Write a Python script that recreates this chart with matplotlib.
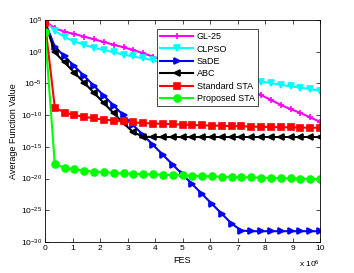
import numpy as np
import matplotlib
matplotlib.use("Agg")
import matplotlib.pyplot as plt

plt.rcParams['font.family'] = ['Liberation Sans', 'DejaVu Sans']
plt.rcParams['mathtext.default'] = 'regular'

# FES grid (in units of 1e6)
fes = np.linspace(0, 10, 29)

# log10 of average function value
gl25 = [4.85, 3.69, 3.16, 2.79, 2.37, 1.96, 1.53, 1.10, 0.69, 0.27,
        -0.25, -0.78, -1.30, -1.82, -2.34, -2.86, -3.38, -3.90, -4.42, -4.95,
        -5.50, -6.15, -6.83, -7.60, -8.40, -9.05, -9.65, -10.35, -11.05]
clpso = [4.8, 3.3, 2.3, 1.6, 1.1, 0.6, 0.25, -0.1, -0.45, -0.75,
         -1.05, -1.35, -1.65, -1.95, -2.2, -2.5, -2.8, -3.1, -3.4, -3.7,
         -4.0, -4.4, -4.7, -4.95, -5.2, -5.45, -5.65, -5.9, -6.15]
sade = [4.7, 0.8, -0.75, -2.3, -3.85, -5.4, -6.95, -8.5, -10.05, -11.6,
        -13.15, -14.7, -16.25, -17.8, -19.35, -20.9, -22.45, -24.0, -25.55, -27.1,
        -28.2, -28.3, -28.3, -28.3, -28.3, -28.3, -28.3, -28.3, -28.3]
abc = [4.7, -0.1, -1.7, -3.3, -4.9, -6.5, -8.1, -9.7, -11.3, -12.7,
       -13.4, -13.45, -13.45, -13.45, -13.45, -13.45, -13.45, -13.45, -13.45, -13.45,
       -13.45, -13.45, -13.45, -13.45, -13.45, -13.45, -13.45, -13.45, -13.45]
std_sta = [4.5, -8.8, -9.6, -10.0, -10.25, -10.5, -10.7, -10.85, -11.0, -11.15,
           -11.25, -11.32, -11.38, -11.44, -11.5, -11.55, -11.6, -11.64, -11.68, -11.72,
           -11.76, -11.8, -11.84, -11.87, -11.9, -11.93, -11.96, -11.98, -12.0]
prop_sta = [3.1, -17.7, -18.3, -18.55, -18.75, -18.9, -19.0, -19.1, -19.17, -19.23,
            -19.3, -19.35, -19.4, -19.45, -19.5, -19.55, -19.6, -19.65, -19.7, -19.74,
            -19.78, -19.82, -19.86, -19.9, -19.94, -19.98, -20.01, -20.04, -20.07]

series = [
    ("GL-25", gl25, "#ff00ff", "+", 5),
    ("CLPSO", clpso, "#00ffff", "v", 5),
    ("SaDE", sade, "#0000ff", ">", 5),
    ("ABC", abc, "k", "<", 5),
    ("Standard STA", std_sta, "#ff0000", "s", 4),
    ("Proposed STA", prop_sta, "#00ff00", "o", 5),
]

fig = plt.figure(figsize=(3.54, 2.73), dpi=100)
ax = fig.add_axes([45/354, 1 - 242/273, 275/354, 222/273])

for name, vals, col, mk, ms in series:
    ax.semilogy(fes, 10.0 ** np.array(vals), color=col, marker=mk, markersize=ms,
                lw=1.5, mew=1.2, label=name)

ax.set_xlim(0, 10)
ax.set_ylim(1e-30, 1e5)
ax.set_xticks(range(11))
yt = [5, 0, -5, -10, -15, -20, -25, -30]
ax.set_yticks([10.0 ** e for e in yt])
ax.set_yticklabels([f"$10^{{{e}}}$" for e in yt])
ax.minorticks_off()
ax.tick_params(direction='in', top=True, right=True, labelsize=6, length=3, width=0.5, pad=2)
for s in ax.spines.values():
    s.set_linewidth(0.6)

ax.set_xlabel("FES", fontsize=6.5, labelpad=3)
ax.set_ylabel("Average Function Value", fontsize=6.5, labelpad=2)
ax.text(1.0, -0.075, r"x $10^{6}$", transform=ax.transAxes, fontsize=6, ha='right', va='top')

leg = ax.legend(loc='upper right', bbox_to_anchor=(0.79, 0.98), fontsize=6.5,
                frameon=True, fancybox=False, edgecolor='k', framealpha=1,
                handlelength=3.6, labelspacing=0.38, borderpad=0.35, handletextpad=0.4)
leg.get_frame().set_linewidth(0.5)

fig.savefig("out.png", dpi=100)
